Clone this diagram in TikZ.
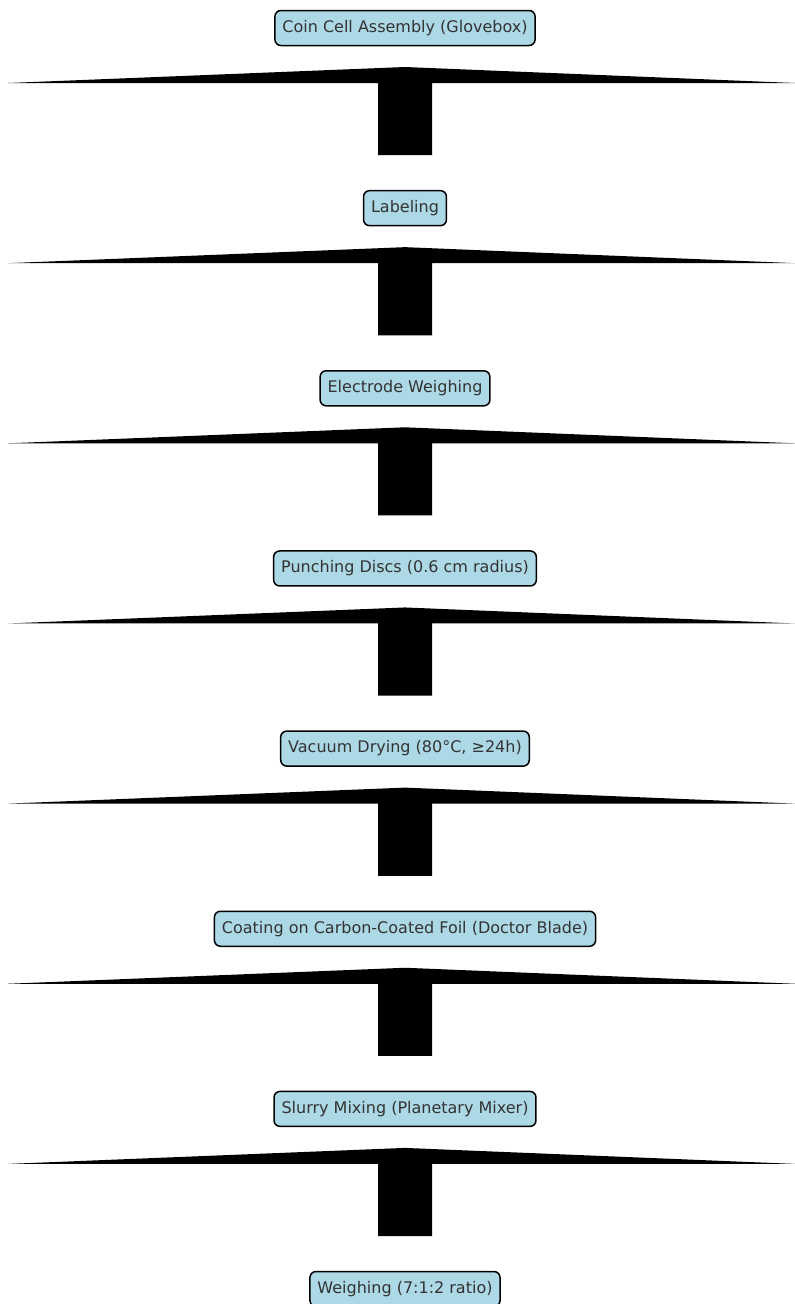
\documentclass[tikz,border=0pt]{standalone}
\usepackage{fontspec}
\setmainfont{DejaVu Sans}
\usetikzlibrary{calc}
\definecolor{boxfill}{HTML}{ADD8E6}
\definecolor{txt}{HTML}{333333}
\tikzset{
  stepbox/.style={draw=black, line width=1.5pt, fill=boxfill, rounded corners=6pt,
    inner xsep=7.5pt, minimum height=35pt, text=txt,
    font=\fontsize{16}{18}\selectfont, text height=12pt, text depth=3.5pt},
  bigarrow/.style={fill=black, draw=none}
}
\begin{document}
\begin{tikzpicture}[x=1pt,y=-1pt]
\useasboundingbox (0,0) rectangle (795,1304);
\clip (0,0) rectangle (795,1304);
\node[stepbox] (b1) at (405,28) {Coin Cell Assembly (Glovebox)};
\node[stepbox] (b2) at (405,208.15) {Labeling};
\node[stepbox] (b3) at (405,388.3) {Electrode Weighing};
\node[stepbox] (b4) at (405,568.45) {Punching Discs (0.6 cm radius)};
\node[stepbox] (b5) at (405,748.6) {Vacuum Drying (80°C, ≥24h)};
\node[stepbox] (b6) at (405,928.75) {Coating on Carbon-Coated Foil (Doctor Blade)};
\node[stepbox] (b7) at (405,1108.9) {Slurry Mixing (Planetary Mixer)};
\node[stepbox] (b8) at (405,1289.05) {Weighing (7:1:2 ratio)};
\foreach \u/\l in {b1/b2,b2/b3,b3/b4,b4/b5,b5/b6,b6/b7,b7/b8}{
  \fill[bigarrow]
    ($(\u.center)+(0,39)$) coordinate (apex)
    -- ($(\u.center)+(390,55)$)
    -- ($(\u.center)+(27,55)$)
    -- ($(\l.center)+(27,-53)$)
    -- ($(\l.center)+(-27,-53)$)
    -- ($(\u.center)+(-27,55)$)
    -- ($(\u.center)+(-397,55)$)
    -- cycle;
}
\end{tikzpicture}
\end{document}
